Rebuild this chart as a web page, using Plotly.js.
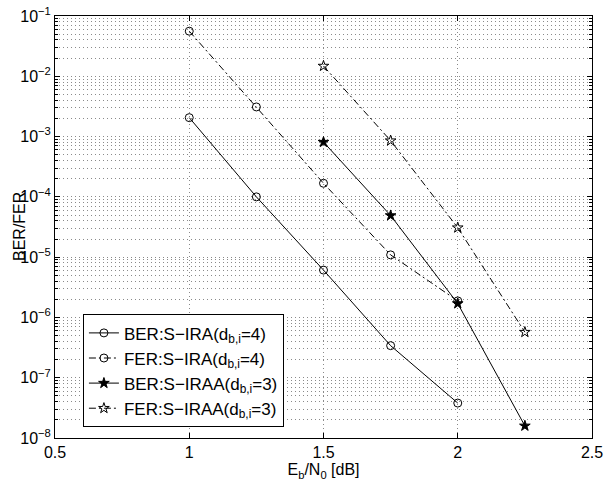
<!DOCTYPE html>
<html>
<head>
<meta charset="utf-8">
<script src="https://cdn.plot.ly/plotly-3.0.1.min.js"></script>
<style>html,body{margin:0;padding:0;background:#fff;}#chart{width:604px;height:486px;}</style>
</head>
<body>
<div id="chart"></div>
<script>
// Data
const ebn0_ira = [1, 1.25, 1.5, 1.75, 2];
const ber_ira = [2.06e-3, 1.0e-4, 6.1e-6, 3.4e-7, 3.8e-8];
const fer_ira = [5.6e-2, 3.1e-3, 1.68e-4, 1.09e-5, 1.88e-6];
const ebn0_iraa = [1.5, 1.75, 2, 2.25];
const ber_iraa = [8.1e-4, 4.9e-5, 1.7e-6, 1.59e-8];
const fer_iraa = [1.48e-2, 8.55e-4, 3.08e-5, 5.7e-7];
const seriesNames = [
  'BER:S\u2212IRA(d<sub>b,i</sub>=4)',
  'FER:S\u2212IRA(d<sub>b,i</sub>=4)',
  'BER:S\u2212IRAA(d<sub>b,i</sub>=3)',
  'FER:S\u2212IRAA(d<sub>b,i</sub>=3)'
];
const yTickVals = [1e-8, 1e-7, 1e-6, 1e-5, 1e-4, 1e-3, 1e-2, 1e-1];
const yTickText = ['10<sup>\u22128</sup>', '10<sup>\u22127</sup>', '10<sup>\u22126</sup>', '10<sup>\u22125</sup>', '10<sup>\u22124</sup>', '10<sup>\u22123</sup>', '10<sup>\u22122</sup>', '10<sup>\u22121</sup>'];
const xTickVals = [0.5, 1, 1.5, 2, 2.5];
const xTickText = ['0.5', '1', '1.5', '2', '2.5'];
const xTitle = 'E<sub>b</sub>/N<sub>0</sub> [dB]';
const yTitle = 'BER/FER';

const FONT = 'Liberation Sans, Arial, Helvetica, sans-serif';
const DASHDOT = '7px,3px,2px,3px';
const GRIDDASH = '1px,3px';
const GRIDCOLOR = '#8a8a8a';

const traces = [
  {x: ebn0_ira, y: ber_ira, name: seriesNames[0], mode: 'lines+markers',
   line: {color: '#000', width: 1, dash: 'solid'},
   marker: {symbol: 'circle-open', size: 8, color: '#000', line: {width: 1, color: '#000'}}},
  {x: ebn0_ira, y: fer_ira, name: seriesNames[1], mode: 'lines+markers',
   line: {color: '#000', width: 1, dash: DASHDOT},
   marker: {symbol: 'circle-open', size: 8, color: '#000', line: {width: 1, color: '#000'}}},
  {x: ebn0_iraa, y: ber_iraa, name: seriesNames[2], mode: 'lines+markers',
   line: {color: '#000', width: 1, dash: 'solid'},
   marker: {symbol: 'star', size: 8, color: '#000', line: {width: 1, color: '#000'}}},
  {x: ebn0_iraa, y: fer_iraa, name: seriesNames[3], mode: 'lines+markers',
   line: {color: '#000', width: 1, dash: DASHDOT},
   marker: {symbol: 'star-open', size: 8, color: '#000', line: {width: 1, color: '#000'}}}
];

const layout = {
  width: 604, height: 486,
  margin: {l: 55, r: 12, t: 16, b: 48},
  paper_bgcolor: '#fff', plot_bgcolor: '#fff',
  font: {family: FONT, size: 16, color: '#000'},
  showlegend: true,
  legend: {
    x: 0.052, y: 0.293, xanchor: 'left', yanchor: 'top',
    bgcolor: '#fff', bordercolor: '#000', borderwidth: 1,
    font: {family: FONT, size: 17, color: '#000'},
    itemwidth: 30, tracegroupgap: 0
  },
  xaxis: {
    range: [0.5, 2.5], tickvals: xTickVals, ticktext: xTickText,
    showline: true, linecolor: '#000', linewidth: 1, mirror: 'ticks',
    ticks: 'inside', ticklen: 5, tickcolor: '#000',
    showgrid: true, gridcolor: GRIDCOLOR, griddash: GRIDDASH, gridwidth: 1,
    zeroline: false,
    tickfont: {family: FONT, size: 16, color: '#000'},
    title: {text: xTitle, font: {family: FONT, size: 16, color: '#000'}, standoff: 0}
  },
  yaxis: {
    type: 'log', range: [-8, -1], tickvals: yTickVals, ticktext: yTickText,
    showline: true, linecolor: '#000', linewidth: 1, mirror: 'ticks',
    ticks: 'inside', ticklen: 5, tickcolor: '#000',
    showgrid: true, gridcolor: GRIDCOLOR, griddash: GRIDDASH, gridwidth: 1,
    zeroline: false,
    minor: {dtick: 'D1', showgrid: true, gridcolor: GRIDCOLOR, griddash: GRIDDASH, gridwidth: 1,
            ticks: 'inside', ticklen: 3, tickcolor: '#000'},
    tickfont: {family: FONT, size: 16, color: '#000'}
  },
  annotations: [
    {text: yTitle, xref: 'paper', yref: 'paper', x: -0.067, y: 0.5,
     xanchor: 'center', yanchor: 'middle', textangle: -90, showarrow: false,
     font: {family: FONT, size: 16, color: '#000'}}
  ]
};

Plotly.newPlot('chart', traces, layout, {displayModeBar: false, staticPlot: true});
</script>
</body>
</html>
